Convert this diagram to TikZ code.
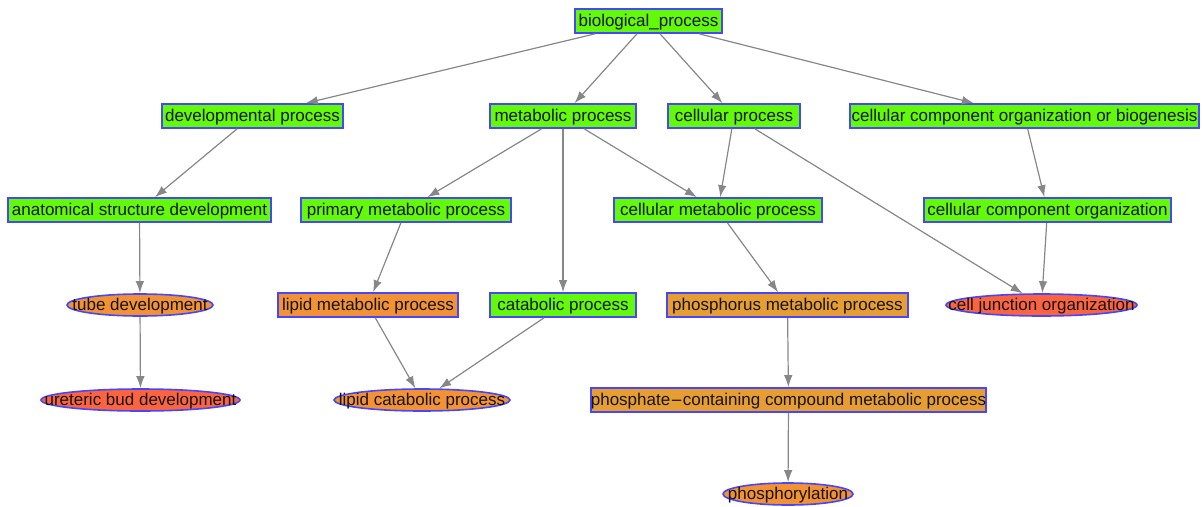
\documentclass[tikz,border=0pt]{standalone}
\usepackage{fontspec}
\setmainfont{Liberation Sans}
\usetikzlibrary{shapes.geometric,arrows.meta}
\definecolor{goGreen}{RGB}{98,250,10}
\definecolor{goOrange}{RGB}{242,146,52}
\definecolor{goAmber}{RGB}{230,158,50}
\definecolor{goRed}{RGB}{252,100,64}
\definecolor{goBorder}{RGB}{70,70,255}
\definecolor{edgeGray}{RGB}{135,135,135}
\tikzset{
  x=1pt, y=-1pt,
  every node/.style={font=\fontsize{17}{19}\selectfont, text=black!92},
  gobox/.style={rectangle, draw=goBorder, line width=1.6pt, minimum height=24pt, inner sep=0pt, text depth=0.25ex},
  goell/.style={ellipse, draw=goBorder, line width=1.6pt, minimum height=22pt, inner sep=0pt},
  isa/.style={draw=edgeGray, line width=1.2pt, -{Latex[length=12pt,width=8.5pt]}}
}
% label wider than its ellipse: zero-size box, baseline set below the centre
\newcommand{\ovtext}[1]{\raisebox{-5.5pt}[0pt][0pt]{\makebox[0pt]{#1}}}
\begin{document}
\begin{tikzpicture}
\useasboundingbox (0,0) rectangle (1204,506);
% level 0
\node[gobox, fill=goGreen, minimum width=147pt] (bp) at (648.5,21) {biological\_process};
% level 1
\node[gobox, fill=goGreen, minimum width=181pt] (dev) at (252.5,116) {developmental process};
\node[gobox, fill=goGreen, minimum width=146pt] (met) at (563,116) {metabolic process};
\node[gobox, fill=goGreen, minimum width=132pt] (cell) at (734,116) {cellular process};
\node[gobox, fill=goGreen, minimum width=349pt] (ccob) at (1024.5,116) {cellular component organization or biogenesis};
% level 2
\node[gobox, fill=goGreen, minimum width=263pt] (anat) at (139.5,210) {anatomical structure development};
\node[gobox, fill=goGreen, minimum width=210pt] (prim) at (406,210) {primary metabolic process};
\node[gobox, fill=goGreen, minimum width=208pt] (cellmet) at (718,210) {cellular metabolic process};
\node[gobox, fill=goGreen, minimum width=247pt] (cco) at (1047.5,210) {cellular component organization};
% level 3
\node[goell, fill=goOrange, minimum width=146pt] (tube) at (140,305) {\ovtext{tube development}};
\node[gobox, fill=goOrange, minimum width=180pt] (lipidmet) at (368,305) {lipid metabolic process};
\node[gobox, fill=goGreen, minimum width=146pt] (catab) at (563,305) {catabolic process};
\node[gobox, fill=goAmber, minimum width=241pt] (phosphorus) at (787.5,305) {phosphorus metabolic process};
\node[goell, fill=goRed, minimum width=191pt] (celljunc) at (1041.5,305) {\ovtext{cell junction organization}};
% level 4
\node[goell, fill=goRed, minimum width=199pt] (ureteric) at (140.5,400) {\ovtext{ureteric bud development}};
\node[goell, fill=goOrange, minimum width=176pt] (lipidcat) at (422,400) {\ovtext{lipid catabolic process}};
\node[gobox, fill=goAmber, minimum width=393pt] (phosphate) at (788.5,400) {phosphate{\fontspec{DejaVu Sans}\fontsize{15}{17}\selectfont −}containing compound metabolic process};
% level 5
\node[goell, fill=goOrange, minimum width=130pt] (phosphoryl) at (788,494) {\ovtext{phosphorylation}};
% is-a relations
\draw[isa] (bp) -- (dev);
\draw[isa] (bp) -- (met);
\draw[isa] (bp) -- (cell);
\draw[isa] (bp) -- (ccob);
\draw[isa] (dev) -- (anat);
\draw[isa] (met) -- (prim);
\draw[isa] (met) -- (catab);
\draw[isa] (met) -- (cellmet);
\draw[isa] (cell) -- (cellmet);
\draw[isa] (cell) -- (celljunc);
\draw[isa] (ccob) -- (cco);
\draw[isa] (cco) -- (celljunc);
\draw[isa] (anat) -- (tube);
\draw[isa] (prim) -- (lipidmet);
\draw[isa] (cellmet) -- (phosphorus);
\draw[isa] (tube) -- (ureteric);
\draw[isa] (lipidmet) -- (lipidcat);
\draw[isa] (catab) -- (lipidcat);
\draw[isa] (phosphorus) -- (phosphate);
\draw[isa] (phosphate) -- (phosphoryl);
\end{tikzpicture}
\end{document}
